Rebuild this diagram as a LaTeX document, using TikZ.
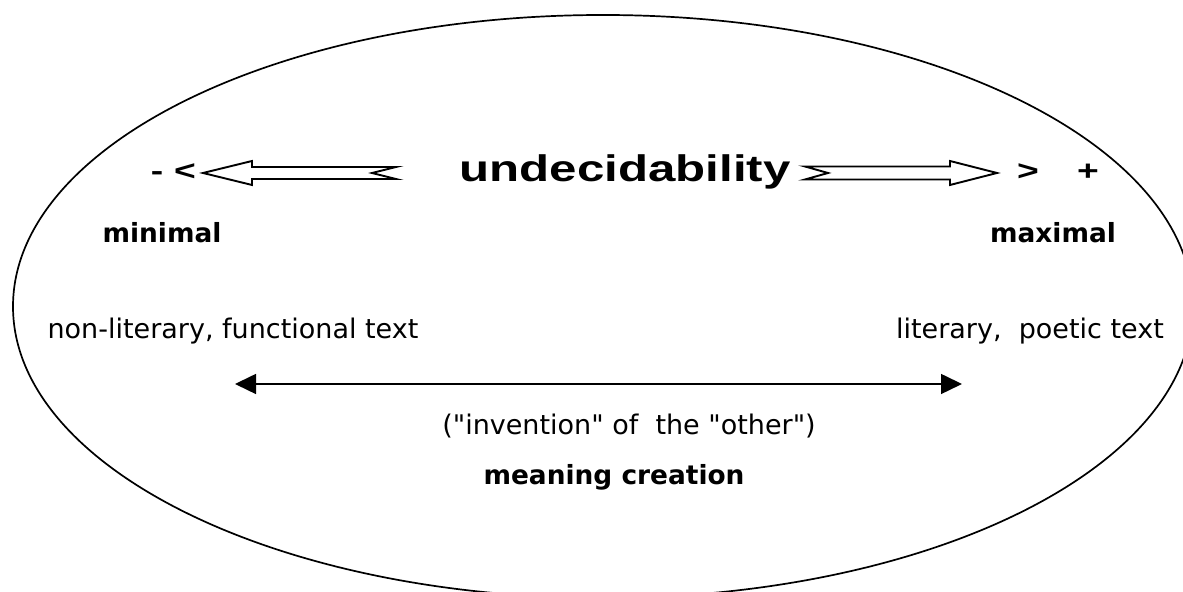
\documentclass[tikz,border=0pt]{standalone}
\usepackage{fontspec}
\setmainfont{DejaVu Sans}
\newfontfamily\headfont[FakeStretch=1.33]{Liberation Sans}
\usetikzlibrary{arrows.meta}

\tikzset{
  plain/.style={font=\fontsize{13.5}{16}\selectfont, inner sep=0pt, anchor=base},
  pole/.style={font=\fontsize{13.2}{16}\selectfont\bfseries, inner sep=0pt, anchor=base},
  sign/.style={font=\headfont\bfseries\fontsize{14}{16}\selectfont, inner sep=0pt, anchor=base},
  hollow/.style={draw, fill=white, line width=0.95pt, line join=miter},
}

\begin{document}
\begin{tikzpicture}[x=0.5pt, y=0.5pt]
  \useasboundingbox (0,0) rectangle (1183,592);

  % the big oval, cut by the page
  \begin{scope}
    \clip (0,0) rectangle (1183,592);
    \draw[line width=0.85pt] (603,285.5) ellipse [x radius=590, y radius=291.5];
  \end{scope}

  % title and the two hollow arrows
  \node[font=\headfont\bfseries\fontsize{18.5}{22}\selectfont, inner sep=0pt, anchor=base]
    (title) at (625,410) {undecidability};
  \coordinate (ltip) at (203,419);
  \coordinate (rtip) at (997,419);
  \draw[hollow] (ltip) -- ++(49,12) -- ++(0,-6) -- ++(144,0) -- ++(-24,-6)
    -- ++(24,-6) -- ++(-144,0) -- ++(0,-6) -- cycle;
  \draw[hollow] (rtip) -- ++(-47,12) -- ++(0,-5.5) -- ++(-145,0) -- ++(23,-6.5)
    -- ++(-23,-6.5) -- ++(145,0) -- ++(0,-5.5) -- cycle;
  \node[sign] (minus) at (157,411) {-};
  \node[sign] (less) at (185,411) {<};
  \node[sign] (more) at (1028,411) {>};
  \node[sign] (plus) at (1088,411) {+};

  \node[pole] (minimal) at (162,349) {minimal};
  \node[pole] (maximal) at (1053,349) {maximal};

  \node[plain] (nonlit) at (233,253) {non-literary, functional text};
  \node[plain] (lit) at (1030,253) {literary,\ \ poetic text};

  % the scale between the two kinds of text
  \coordinate (scaleL) at (235,208);
  \coordinate (scaleR) at (962,208);
  \draw[line width=0.75pt, {Triangle[length=10.5pt, width=10pt]}-{Triangle[length=10.5pt, width=10pt]}]
    (scaleL) -- (scaleR);

  \node[plain] (invention) at (629,157.5)
    {(\textquotedbl invention\textquotedbl\ of\ \ the \textquotedbl other\textquotedbl)};
  \node[pole] (meaning) at (614,107) {meaning creation};
\end{tikzpicture}
\end{document}
